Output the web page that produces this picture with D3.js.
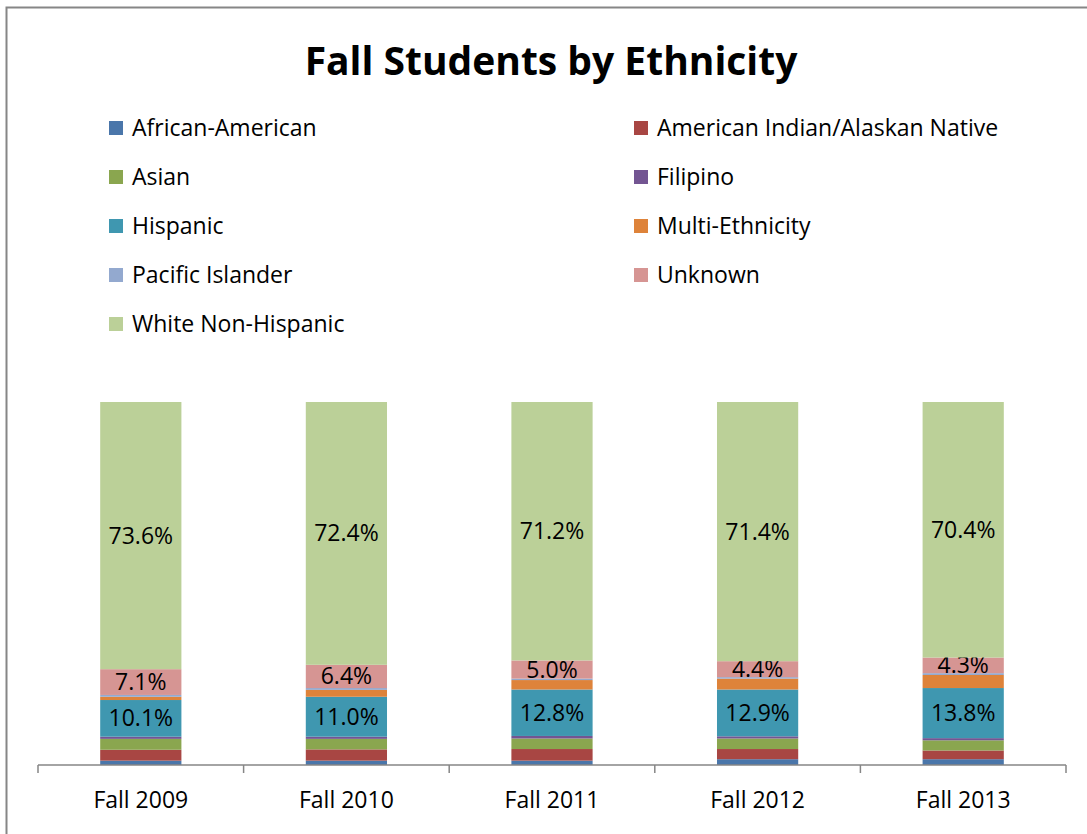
<!DOCTYPE html>
<html>
<head>
<meta charset="utf-8">
<script src="https://cdn.jsdelivr.net/npm/d3@7"></script>
<style>
  body { margin: 0; background: #fff; }
  svg { display: block; font-family: "Open Sans", sans-serif; }
</style>
</head>
<body>
<div id="chart"></div>
<script>
// categories and series (percent of fall students)
const years = ["Fall 2009", "Fall 2010", "Fall 2011", "Fall 2012", "Fall 2013"];
const groups = ["African-American", "American Indian/Alaskan Native", "Asian", "Filipino",
    "Hispanic", "Multi-Ethnicity", "Pacific Islander", "Unknown", "White Non-Hispanic"];
const africanAmerican = [1.2, 1.2, 1.2, 1.6, 1.6];
const americanIndian  = [3.0, 3.1, 3.2, 2.8, 2.4];
const asian           = [3.0, 2.9, 2.9, 2.9, 2.8];
const filipino        = [0.6, 0.6, 0.7, 0.6, 0.6];
const hispanic        = [10.1, 11.0, 12.8, 12.9, 13.8];
const multiEthnicity  = [0.9, 1.9, 2.6, 3.0, 3.6];
const pacificIslander = [0.5, 0.5, 0.4, 0.4, 0.5];
const unknown         = [7.1, 6.4, 5.0, 4.4, 4.3];
const whiteNonHisp    = [73.6, 72.4, 71.2, 71.4, 70.4];
const labelled = ["Hispanic", "Unknown", "White Non-Hispanic"];

const colors = ["#4A76AA", "#A84643", "#8AA64F", "#735592", "#3F97B0",
    "#DE833A", "#93A9CF", "#D69593", "#BBD098"];

const seriesValues = [africanAmerican, americanIndian, asian, filipino, hispanic,
    multiEthnicity, pacificIslander, unknown, whiteNonHisp];

// build rows for d3.stack
const rows = years.map((y, i) => {
    let r = {year: y};
    groups.forEach((g, j) => r[g] = seriesValues[j][i]);
    return r;
});

const width = 1087, height = 834;
const margin = {top: 402, right: 21, bottom: 69, left: 38};
const fontSize = 23;

const svg = d3.select("#chart").append("svg")
    .attr("width", width)
    .attr("height", height);

// chart border
svg.append("rect")
    .attr("x", 6.5).attr("y", 7.5)
    .attr("width", width + 10).attr("height", height + 10)
    .attr("fill", "none")
    .attr("stroke", "#868686")
    .attr("stroke-width", 2);

svg.append("text")
    .attr("x", 551).attr("y", 75)
    .attr("text-anchor", "middle")
    .attr("font-size", 39)
    .attr("font-weight", "bold")
    .text("Fall Students by Ethnicity");

// legend, two columns
const legend = svg.append("g");
const leg = legend.selectAll("g").data(groups).enter().append("g")
    .attr("transform", (d, i) => `translate(${i % 2 === 0 ? 109 : 634}, ${121 + Math.floor(i / 2) * 49})`);
leg.append("rect")
    .attr("width", 14).attr("height", 14)
    .attr("fill", (d, i) => colors[i]);
leg.append("text")
    .attr("x", 23).attr("y", 15)
    .attr("font-size", fontSize)
    .text(d => d);

const x = d3.scaleBand()
    .domain(years)
    .range([margin.left, width - margin.right])
    .paddingInner(0.605)
    .paddingOuter(0.3025);

const y = d3.scaleLinear()
    .domain([0, 100])
    .range([height - margin.bottom, margin.top]);

const stacked = d3.stack().keys(groups)(rows);

const layers = svg.append("g").selectAll("g")
    .data(stacked).enter().append("g")
    .attr("fill", (d, i) => colors[i]);

layers.selectAll("rect")
    .data(d => d)
    .enter().append("rect")
    .attr("x", d => x(d.data.year))
    .attr("width", x.bandwidth())
    .attr("y", d => y(d[1]))
    .attr("height", d => y(d[0]) - y(d[1]));

// data labels
layers.filter(d => labelled.includes(d.key))
    .selectAll("text")
    .data(d => d.map(p => ({p: p, key: d.key})))
    .enter().append("text")
    .attr("x", d => x(d.p.data.year) + x.bandwidth() / 2)
    .attr("y", d => (y(d.p[0]) + y(d.p[1])) / 2 + 8)
    .attr("text-anchor", "middle")
    .attr("font-size", fontSize)
    .attr("fill", "#000")
    .text(d => d3.format(".1f")(d.p.data[d.key]) + "%");

// x axis with ticks between categories
const axisY = height - margin.bottom;
const axis = svg.append("g");
axis.append("line")
    .attr("x1", margin.left).attr("x2", width - margin.right)
    .attr("y1", axisY).attr("y2", axisY)
    .attr("stroke", "#868686").attr("stroke-width", 1.5);
const step = (width - margin.right - margin.left) / years.length;
axis.selectAll(".tick").data(d3.range(years.length + 1)).enter().append("line")
    .attr("x1", i => margin.left + i * step).attr("x2", i => margin.left + i * step)
    .attr("y1", axisY).attr("y2", axisY + 8)
    .attr("stroke", "#868686").attr("stroke-width", 1.5);
axis.selectAll("text").data(years).enter().append("text")
    .attr("x", d => x(d) + x.bandwidth() / 2)
    .attr("y", 808)
    .attr("text-anchor", "middle")
    .attr("font-size", fontSize)
    .text(d => d);
</script>
</body>
</html>
